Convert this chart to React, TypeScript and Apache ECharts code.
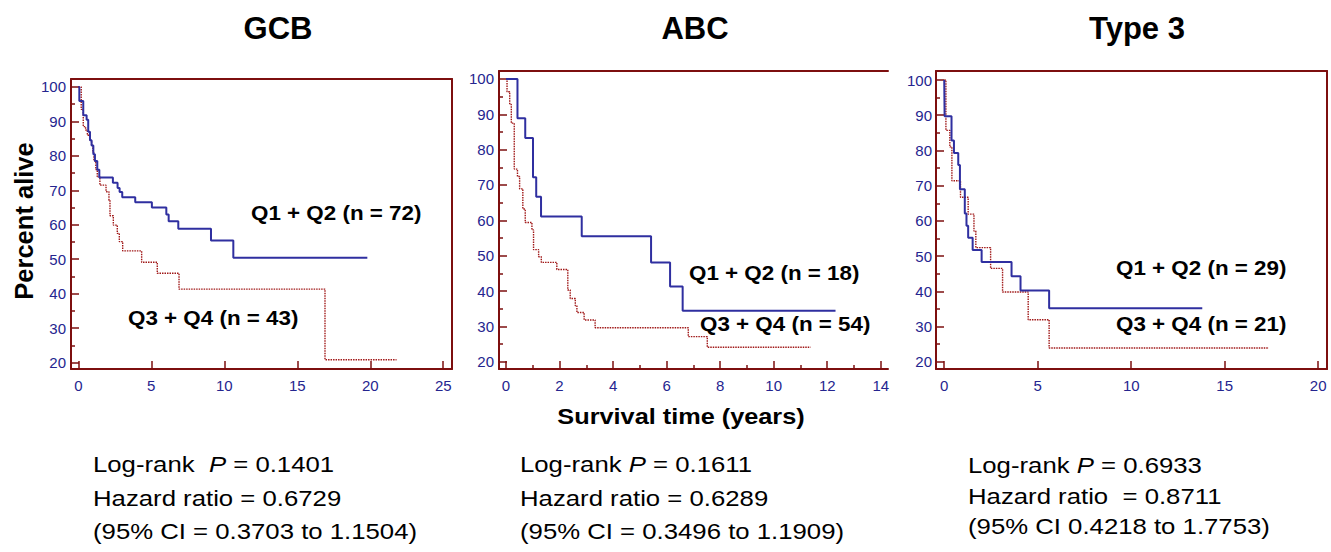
import React, { useEffect, useRef } from "react";
import * as echarts from "echarts";

// ---------- data ----------
const panelTitles = ["GCB", "ABC", "Type 3"];
const groupLabels = [
  ["Q1 + Q2 (n = 72)", "Q3 + Q4 (n = 43)"],
  ["Q1 + Q2 (n = 18)", "Q3 + Q4 (n = 54)"],
  ["Q1 + Q2 (n = 29)", "Q3 + Q4 (n = 21)"],
];
const statLines = [
  ["Log-rank  {i|P} = 0.1401", "Hazard ratio = 0.6729", "(95% CI = 0.3703 to 1.1504)"],
  ["Log-rank {i|P} = 0.1611", "Hazard ratio = 0.6289", "(95% CI = 0.3496 to 1.1909)"],
  ["Log-rank {i|P} = 0.6933", "Hazard ratio  = 0.8711", "(95% CI 0.4218 to 1.7753)"],
];

// GCB
const gcbQ12Time = [0, 0.07, 0.34, 0.57, 0.68, 0.8, 0.91, 1.03, 1.14, 1.3, 1.44, 2.37, 2.69, 2.83, 3.01, 3.9, 5.04, 6.03, 6.19, 6.85, 9.09, 10.62, 19.8];
const gcbQ12Surv = [100, 95.9, 91.8, 90.5, 87, 84.5, 83, 80.5, 78.5, 76, 73.7, 72.2, 70.7, 69.5, 68, 66.5, 65, 63, 61, 58.8, 55.4, 50.4, 50.4];
const gcbQ34Time = [0, 0.2, 0.34, 0.5, 0.62, 0.8, 0.91, 1.0, 1.07, 1.2, 1.3, 1.48, 1.9, 2.1, 2.17, 2.4, 2.67, 2.81, 3.04, 4.34, 5.41, 6.9, 16.9, 21.8];
const gcbQ34Surv = [100, 93.5, 88.5, 87.5, 86, 84.5, 83, 81, 78.5, 76, 73.9, 71.5, 69.6, 67.1, 62.6, 59.9, 57.5, 55.1, 52.4, 49.1, 45.9, 41.3, 20.8, 20.8];
// ABC
const abcQ12Time = [0, 0.43, 0.72, 1.01, 1.13, 1.31, 2.83, 5.42, 6.13, 6.6, 12.31];
const abcQ12Surv = [100, 88.9, 83.3, 72.2, 66.7, 61.1, 55.5, 48.1, 41.3, 34.4, 34.4];
const abcQ34Time = [0, 0.04, 0.14, 0.2, 0.31, 0.43, 0.51, 0.63, 0.72, 0.97, 1.03, 1.22, 1.32, 1.9, 2.31, 2.4, 2.59, 2.65, 2.92, 3.33, 6.81, 7.52, 11.38];
const abcQ34Surv = [100, 96.4, 92.8, 87.5, 74.5, 72.4, 68.9, 63.2, 59.4, 57.3, 51.7, 49.7, 48.1, 46.1, 40.3, 37.9, 35.8, 33.9, 31.8, 29.6, 27.1, 24.1, 24.1];
// Type 3
const t3Q12Time = [0, 0.02, 0.39, 0.52, 0.75, 0.84, 1.1, 1.19, 1.28, 1.52, 2.0, 3.6, 4.08, 5.61, 13.8];
const t3Q12Surv = [100, 89.7, 82.8, 79.3, 75.9, 69.0, 62.1, 58.6, 55.2, 51.7, 48.3, 44.3, 40.2, 35.2, 35.2];
const t3Q34Time = [0, 0.09, 0.3, 0.41, 0.87, 1.28, 1.59, 1.69, 2.48, 3.12, 4.49, 5.61, 17.36];
const t3Q34Surv = [100, 85.7, 81.0, 71.4, 66.7, 61.9, 57.1, 52.4, 46.5, 39.8, 31.9, 23.9, 23.9];

// ticks
const xTicksGcb = [0, 5, 10, 15, 20, 25];
const xTicksAbc = [0, 2, 4, 6, 8, 10, 12, 14];
const xMinorAbc = [1, 3, 5, 7, 9, 11, 13];
const xTicksT3 = [0, 5, 10, 15, 20];
const yTicks = [20, 30, 40, 50, 60, 70, 80, 90, 100];
const yMinor = [25, 35, 45, 55, 65, 75, 85, 95];

// ---------- layout ----------
const FONT = "'Liberation Sans', Arial, Helvetica, sans-serif";
const TICKFONT = "'Liberation Sans Narrow', 'Arial Narrow', 'Liberation Sans', Arial, sans-serif";
const AXIS = "#7d0f0f";
const LABEL = "#25258f";
const BLUE = "#2f2fa0";
const RED = "#a01818";

const panels = [
  { grid: { left: 71, top: 79, width: 381, height: 290 }, x: [-0.5, 25.6], y: [18.11, 102.32], xt: xTicksGcb, xm: [] as number[], right: true,
    q12: [gcbQ12Time, gcbQ12Surv], q34: [gcbQ34Time, gcbQ34Surv], lm: 5 },
  { grid: { left: 499, top: 71, width: 389, height: 298 }, x: [-0.26, 14.27], y: [17.93, 102.26], xt: xTicksAbc, xm: xMinorAbc, right: false,
    q12: [abcQ12Time, abcQ12Surv], q34: [abcQ34Time, abcQ34Surv], lm: 5 },
  { grid: { left: 936, top: 71, width: 391, height: 298 }, x: [-0.44, 20.47], y: [17.93, 102.56], xt: xTicksT3, xm: [] as number[], right: true,
    q12: [t3Q12Time, t3Q12Surv], q34: [t3Q34Time, t3Q34Surv], lm: 4 },
];

const titlePos = [
  [278, 28],
  [695, 28],
  [1137, 28],
];
const groupPos = [
  [[251, 213], [128, 318]],
  [[689, 273], [700, 324]],
  [[1116, 268], [1116, 324]],
];
const statPos = [
  [93, [464, 498, 531]],
  [520, [464, 498, 531]],
  [968, [465, 496, 526]],
] as const;

function buildOption() {
  const grid: any[] = [];
  const xAxis: any[] = [];
  const yAxis: any[] = [];
  const series: any[] = [];
  const graphic: any[] = [];

  panels.forEach((p, i) => {
    grid.push({ ...p.grid, containLabel: false, show: false });
    const base = xAxis.length;
    const ybase = yAxis.length;
    xAxis.push({
      type: "value", gridIndex: i, position: "bottom", min: p.x[0], max: p.x[1],
      axisLine: { show: true, onZero: false, lineStyle: { color: AXIS, width: 2 } },
      axisTick: { show: true, inside: true, length: 8, customValues: p.xt, lineStyle: { color: AXIS, width: 1.5 } },
      axisLabel: { show: true, customValues: p.xt, color: LABEL, fontSize: 15, fontFamily: TICKFONT, margin: 9 },
      splitLine: { show: false },
    });
    xAxis.push({
      type: "value", gridIndex: i, position: "bottom", min: p.x[0], max: p.x[1],
      axisLine: { show: false, onZero: false },
      axisTick: { show: p.xm.length > 0, inside: true, length: 4, customValues: p.xm.length ? p.xm : [0], lineStyle: { color: AXIS, width: 1.5 } },
      axisLabel: { show: false },
      splitLine: { show: false },
    });
    xAxis.push({
      type: "value", gridIndex: i, position: "top", min: p.x[0], max: p.x[1],
      axisLine: { show: true, onZero: false, lineStyle: { color: AXIS, width: 2 } },
      axisTick: { show: false }, axisLabel: { show: false }, splitLine: { show: false },
    });
    yAxis.push({
      type: "value", gridIndex: i, position: "left", min: p.y[0], max: p.y[1],
      axisLine: { show: true, onZero: false, lineStyle: { color: AXIS, width: 2 } },
      axisTick: { show: true, inside: true, length: 8, customValues: yTicks, lineStyle: { color: AXIS, width: 1.5 } },
      axisLabel: { show: true, customValues: yTicks, color: LABEL, fontSize: 15, fontFamily: TICKFONT, margin: p.lm },
      splitLine: { show: false },
    });
    yAxis.push({
      type: "value", gridIndex: i, position: "left", min: p.y[0], max: p.y[1],
      axisLine: { show: false, onZero: false },
      axisTick: { show: true, inside: true, length: 4, customValues: yMinor, lineStyle: { color: AXIS, width: 1.5 } },
      axisLabel: { show: false }, splitLine: { show: false },
    });
    yAxis.push({
      type: "value", gridIndex: i, position: "right", min: p.y[0], max: p.y[1],
      axisLine: { show: p.right, onZero: false, lineStyle: { color: AXIS, width: 2 } },
      axisTick: { show: false }, axisLabel: { show: false }, splitLine: { show: false },
    });

    series.push({
      type: "line", name: groupLabels[i][1], xAxisIndex: base, yAxisIndex: ybase, step: "end",
      showSymbol: false, symbol: "none", silent: true,
      data: p.q34[0].map((t, k) => [t, p.q34[1][k]]),
      lineStyle: { color: RED, width: 1.4, type: [1.5, 1] },
      z: 3,
    });
    series.push({
      type: "line", name: groupLabels[i][0], xAxisIndex: base, yAxisIndex: ybase, step: "end",
      showSymbol: false, symbol: "none", silent: true,
      data: p.q12[0].map((t, k) => [t, p.q12[1][k]]),
      lineStyle: { color: BLUE, width: 2 },
      z: 4,
    });

    graphic.push({
      type: "text", x: titlePos[i][0], y: titlePos[i][1],
      style: { text: panelTitles[i], fontSize: 31, fontWeight: "bold", fontFamily: FONT, fill: "#000", align: "center", verticalAlign: "middle" },
    });
    groupLabels[i].forEach((lab, j) => {
      graphic.push({
        type: "text", x: groupPos[i][j][0], y: groupPos[i][j][1], scaleX: 1.12,
        style: { text: lab, fontSize: 20, fontWeight: "bold", fontFamily: FONT, fill: "#000", align: "left", verticalAlign: "middle" },
      });
    });
    statLines[i].forEach((line, j) => {
      graphic.push({
        type: "text", x: statPos[i][0], y: (statPos[i][1] as readonly number[])[j], scaleX: 1.17,
        style: {
          text: line, fontSize: 22, fontFamily: FONT, fill: "#000", align: "left", verticalAlign: "middle",
          rich: { i: { fontStyle: "italic", fontSize: 22, fontFamily: FONT, fill: "#000" } },
        },
      });
    });
  });

  graphic.push({
    type: "text", x: 24, y: 221, rotation: Math.PI / 2,
    style: { text: "Percent alive", fontSize: 25.5, fontWeight: "bold", fontFamily: FONT, fill: "#000", align: "center", verticalAlign: "middle" },
  });
  graphic.push({
    type: "text", x: 681, y: 417, scaleX: 1.15,
    style: { text: "Survival time (years)", fontSize: 22, fontWeight: "bold", fontFamily: FONT, fill: "#000", align: "center", verticalAlign: "middle" },
  });

  return { animation: false, backgroundColor: "#fff", grid, xAxis, yAxis, series, graphic };
}

export default function App() {
  const ref = useRef<HTMLDivElement>(null);
  useEffect(() => {
    if (!ref.current) return;
    const chart = echarts.init(ref.current, undefined, { renderer: "svg" });
    chart.setOption(buildOption() as any);
    return () => chart.dispose();
  }, []);
  return (
    <div
      ref={ref}
      style={{ position: "fixed", left: 0, top: 0, width: 1331, height: 552, background: "#fff" }}
    />
  );
}
